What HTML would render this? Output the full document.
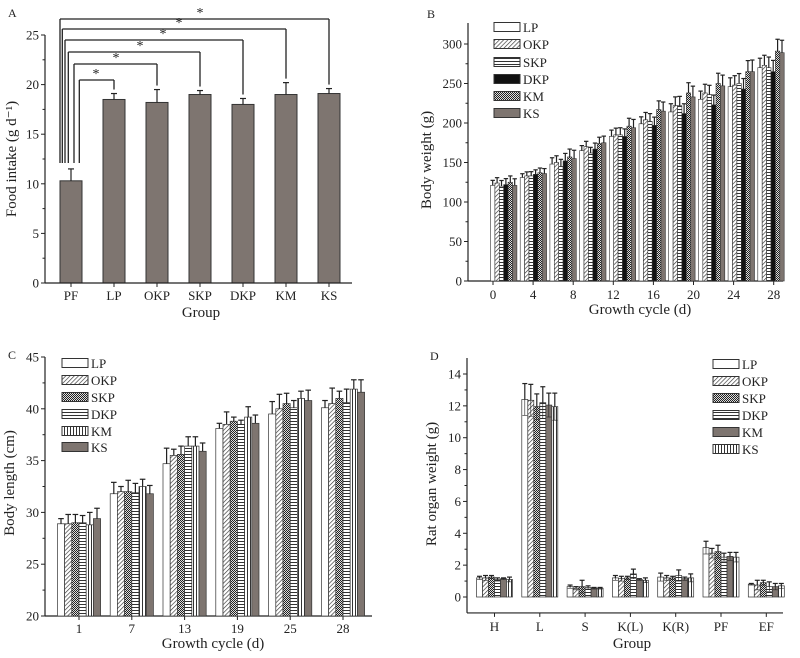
<!DOCTYPE html>
<html><head><meta charset="utf-8"><style>
html,body{margin:0;padding:0;background:#fff;}
svg{display:block;font-family:"Liberation Serif",serif;}
</style></head><body>
<svg id="fig" width="800" height="658" viewBox="0 0 800 658" xmlns="http://www.w3.org/2000/svg">
<defs>
<pattern id="p-diag" patternUnits="userSpaceOnUse" width="3" height="3" patternTransform="rotate(45)"><rect width="3" height="3" fill="#fff"/><line x1="0" y1="0" x2="0" y2="3" stroke="#333" stroke-width="1.3"/></pattern>
<pattern id="p-hor" patternUnits="userSpaceOnUse" width="4" height="3"><rect width="4" height="3" fill="#fff"/><line x1="0" y1="1.5" x2="4" y2="1.5" stroke="#333" stroke-width="1"/></pattern>
<pattern id="p-ver" patternUnits="userSpaceOnUse" width="3" height="4"><rect width="3" height="4" fill="#fff"/><line x1="1.5" y1="0" x2="1.5" y2="4" stroke="#333" stroke-width="1"/></pattern>
<pattern id="p-check" patternUnits="userSpaceOnUse" width="2" height="2"><rect width="2" height="2" fill="#ddd"/><rect width="1" height="1" fill="#222"/><rect x="1" y="1" width="1" height="1" fill="#222"/></pattern>
</defs>
<g id="root"></g>
</svg>
<script>
// ---- Panel A data ----
const aCats = ['PF','LP','OKP','SKP','DKP','KM','KS'];
const aVals = [10.3,18.5,18.2,19.0,18.0,19.0,19.1];
const aErrs = [1.2,0.6,1.3,0.4,0.6,1.2,0.5];
const aTicks = [0,5,10,15,20,25];
// ---- Panel B data ----
const bSeries = ['LP','OKP','SKP','DKP','KM','KS'];
const bTicks = [0,50,100,150,200,250,300];
const bXLabels = ['0','4','8','12','16','20','24','28'];
const bLP  = [121,131,148,165,183,199,214,230,246,270];
const bOKP = [124,133,150,170,185,204,222,238,248,273];
const bSKP = [120,133,145,162,185,202,222,236,250,270];
const bDKP = [122,135,152,167,183,197,212,223,243,265];
const bKM  = [125,137,157,174,196,217,238,250,265,291];
const bKS  = [121,136,155,175,194,215,233,247,265,289];
const bErr = [8,6,10,8,10,11,13,13,14,15];
// ---- Panel C data ----
const cCats = ['1','7','13','19','25','28'];
const cSeries = ['LP','OKP','SKP','DKP','KM','KS'];
const cTicks = [20,25,30,35,40,45];
const cLP  = [28.9,31.8,34.7,38.1,39.5,40.1];
const cOKP = [28.9,32.0,35.5,38.5,40.0,40.5];
const cSKP = [29.0,32.0,35.6,38.8,40.5,41.0];
const cDKP = [29.0,31.9,36.4,38.5,40.1,40.6];
const cKM  = [28.8,32.5,36.4,39.2,41.0,41.9];
const cKS  = [29.4,31.8,35.9,38.6,40.8,41.6];
const cErrLP=[0.5,1.1,1.5,0.5,1.2,0.7], cErrOKP=[0.9,0.5,0.6,1.2,1.4,1.5], cErrSKP=[0.8,1.1,0.8,0.4,1.0,0.7];
const cErrDKP=[0.7,0.9,0.9,0.4,0.7,1.3], cErrKM=[1.2,0.7,0.9,1.0,0.7,0.9], cErrKS=[1.0,0.8,0.8,0.8,1.0,1.2];
// ---- Panel D data ----
const dCats = ['H','L','S','K(L)','K(R)','PF','EF'];
const dSeries = ['LP','OKP','SKP','DKP','KM','KS'];
const dTicks = [0,2,4,6,8,10,12,14];
const dLP  = [1.2,12.4,0.65,1.2,1.25,3.1,0.8];
const dOKP = [1.2,12.35,0.55,1.15,1.2,2.75,0.75];
const dSKP = [1.25,11.95,0.65,1.2,1.2,2.85,0.9];
const dDKP = [1.1,12.2,0.6,1.45,1.35,2.5,0.65];
const dKM  = [1.15,12.05,0.55,1.1,1.15,2.55,0.65];
const dKS  = [1.1,11.95,0.55,1.05,1.2,2.5,0.7];
const dErrLP=[0.1,1.0,0.1,0.15,0.25,0.4,0.05], dErrOKP=[0.15,1.0,0.1,0.15,0.15,0.3,0.3], dErrSKP=[0.1,0.8,0.4,0.1,0.1,0.4,0.15];
const dErrDKP=[0.1,1.0,0.1,0.3,0.35,0.25,0.3], dErrKM=[0.05,0.75,0.05,0.05,0.1,0.25,0.2], dErrKS=[0.15,0.85,0.05,0.15,0.25,0.3,0.15];

const NS='http://www.w3.org/2000/svg';
const root=document.getElementById('root');
function mk(tag,attrs,parent,text){const e=document.createElementNS(NS,tag);for(const k in attrs)e.setAttribute(k,attrs[k]);if(text!==undefined)e.textContent=text;(parent||root).appendChild(e);return e;}
function grp(name){const g=mk('g',{});


return g;}
function line(g,x1,y1,x2,y2,w){return mk('line',{x1,y1,x2,y2,stroke:'#222','stroke-width':w||1},g);}
function txt(g,x,y,s,anchor,size,name){const t=mk('text',{x,y,'text-anchor':anchor||'middle','font-size':size||13,fill:'#222'},g,s);


return t;}
const GRAY='#7e7570';
const TS=13, AS=15;
const fills={white:'#fff',diag:'url(#p-diag)',hor:'url(#p-hor)',ver:'url(#p-ver)',check:'url(#p-check)',black:'#111',gray:GRAY};

function yAxis(g,x,yTop,yBot,ticks,yf,minorStep){
  line(g,x,yTop,x,yBot,1.2);
  ticks.forEach(t=>{const y=yf(t);line(g,x-4,y,x,y,1);txt(g,x-6,y+4.5,String(t),'end',TS,'y-tick-label');});
  if(minorStep){const lo=ticks[0],hi=ticks[ticks.length-1];for(let v=lo+minorStep;v<hi;v+=2*minorStep){line(g,x-2.5,yf(v),x,yf(v),1);}}
}
function legend(g,x,ys,names,fl){
  names.forEach((n,i)=>{const le=grp('legend-entry-'+n.toLowerCase());g.appendChild(le);
    mk('rect',{x,y:ys[i]-4.5,width:26,height:9,fill:fl[i],stroke:'#333','stroke-width':1},le);
    txt(le,x+29,ys[i]+5,n,'start',TS,'legend-label');});
}
function errBar(g,cx,yTop,yErr,capW,both,yDown){
  line(g,cx,yTop,cx,yErr,1.2);line(g,cx-capW,yErr,cx+capW,yErr,1.2);
  if(both){line(g,cx,yTop,cx,yDown,0.6);line(g,cx-capW,yDown,cx+capW,yDown,0.6);}
}

// ===== Panel A =====
(function(){
 const g=grp('panel-a-food-intake');
 const X0=45,Y0=283,Y25=35;const yf=v=>Y0-(Y0-Y25)*v/25;
 const xc=i=>71+i*43;const bw=22;
 txt(g,8,17,'A','start',12,'panel-label-a');
 aCats.forEach((c,i)=>{const b=mk('rect',{x:xc(i)-bw/2,y:yf(aVals[i]),width:bw,height:Y0-yf(aVals[i]),fill:GRAY,stroke:'#333','stroke-width':1},g);
  
  
  errBar(g,xc(i),yf(aVals[i]),yf(aVals[i]+aErrs[i]),3);
  line(g,xc(i),Y0,xc(i),Y0+4,1);
  txt(g,xc(i),Y0+17,c,'middle',TS,'x-tick-label');});
 line(g,X0,Y0,352,Y0,1.2);
 yAxis(g,X0,Y0-0,Y0,aTicks,yf,2.5);
 line(g,X0,yf(25),X0,Y0,1.2);
 const br=grp('significance-brackets');g.appendChild(br);
 const lefts=[79.3,74,68.3,65,62.3,60];const tops=[80,64,52,40,29,19];
 const starX=[96,116,140,163,179,200];
 for(let k=1;k<aCats.length;k++){const lx=lefts[k-1],ty=tops[k-1],rx=xc(k);
  const dropEnd=yf(aVals[k]+aErrs[k])-4;
  line(br,lx,163,lx,ty,1.3);line(br,lx,ty,rx,ty,1.3);line(br,rx,ty,rx,dropEnd,1.3);
  txt(br,starX[k-1],ty-2,'*','middle',14,'significance-star');}
 const yl=txt(g,0,0,'Food intake (g d\u207B\u00B9)','middle',AS,'y-axis-title');yl.setAttribute('transform','translate(16,159) rotate(-90)');
 txt(g,201,317,'Group','middle',AS,'x-axis-title');
})();

// ===== Panel B =====
(function(){
 const g=grp('panel-b-body-weight');
 const X0=468,Y0=281,Y300=44;const yf=v=>Y0-(Y0-Y300)*v/300;
 txt(g,427,18,'B','start',12,'panel-label-b');
 line(g,X0,Y0,783,Y0,1.2);
 yAxis(g,X0,23,Y0,bTicks,yf,25);
 bXLabels.forEach((l,i)=>{const x=493+i*40.1;line(g,x,Y0,x,Y0+4,1);txt(g,x,Y0+18,l,'middle',TS,'x-tick-label');});
 const series=[bLP,bOKP,bSKP,bDKP,bKM,bKS];const fl=[fills.white,fills.diag,fills.hor,fills.black,fills.check,fills.gray];
 const bw=4.4;
 for(let gi=0;gi<bLP.length;gi++){const gx=490.5+gi*29.7;
  series.forEach((s,si)=>{const x=gx+si*bw;const r=mk('rect',{x,y:yf(s[gi]),width:bw,height:Y0-yf(s[gi]),fill:fl[si],stroke:'#333','stroke-width':0.6},g);
   
   
   errBar(g,x+bw/2,yf(s[gi]),yf(s[gi]+bErr[gi]*(0.8+0.05*si)),2.2);});}
 const lg=grp('legend-b');g.appendChild(lg);legend(lg,494,[27,44,62,79,96,113],bSeries,fl);
 const yl=txt(g,0,0,'Body weight (g)','middle',AS,'y-axis-title');yl.setAttribute('transform','translate(431,160) rotate(-90)');
 txt(g,640,314,'Growth cycle (d)','middle',AS,'x-axis-title');
})();

// ===== Panel C =====
(function(){
 const g=grp('panel-c-body-length');
 const X0=45,Y20=616,Y45=357;const yf=v=>Y20-(Y20-Y45)*(v-20)/25;
 txt(g,8,359,'C','start',12,'panel-label-c');
 line(g,X0,Y20,372,Y20,1.2);
 yAxis(g,X0,Y45,Y20,cTicks,yf,2.5);
 const series=[cLP,cOKP,cSKP,cDKP,cKM,cKS];const errs=[cErrLP,cErrOKP,cErrSKP,cErrDKP,cErrKM,cErrKS];
 const fl=[fills.white,fills.diag,fills.check,fills.hor,fills.ver,fills.gray];const bw=7.2;
 cCats.forEach((c,gi)=>{const cx=79+gi*52.8;line(g,cx,Y20,cx,Y20+4,1);txt(g,cx,Y20+17,c,'middle',TS,'x-tick-label');
  series.forEach((s,si)=>{const x=cx-3*bw+si*bw;const r=mk('rect',{x,y:yf(s[gi]),width:bw,height:Y20-yf(s[gi]),fill:fl[si],stroke:'#333','stroke-width':0.7},g);
   
   
   errBar(g,x+bw/2,yf(s[gi]),yf(s[gi]+errs[si][gi]),2.8);});});
 const lg=grp('legend-c');g.appendChild(lg);legend(lg,62,[363,380,397,414,431,447],cSeries,fl);
 const yl=txt(g,0,0,'Body length (cm)','middle',AS,'y-axis-title');yl.setAttribute('transform','translate(14,483) rotate(-90)');
 txt(g,213,648,'Growth cycle (d)','middle',AS,'x-axis-title');
})();

// ===== Panel D =====
(function(){
 const g=grp('panel-d-organ-weight');
 const X0=467,Y0=597,Y14=374;const yf=v=>Y0-(Y0-Y14)*v/14;const YB=yf(-1);
 txt(g,430,360,'D','start',12,'panel-label-d');
 line(g,X0,YB,783,YB,1.2);
 yAxis(g,X0,358,YB,dTicks,yf,1);
 const series=[dLP,dOKP,dSKP,dDKP,dKM,dKS];const errs=[dErrLP,dErrOKP,dErrSKP,dErrDKP,dErrKM,dErrKS];
 const fl=[fills.white,fills.diag,fills.check,fills.hor,fills.gray,fills.ver];const bw=6;
 dCats.forEach((c,gi)=>{const cx=494.5+gi*45.3;line(g,cx,YB,cx,YB+4,1);txt(g,cx,YB+18,c,'middle',TS,'x-tick-label');
  series.forEach((s,si)=>{const x=cx-3*bw+si*bw;const r=mk('rect',{x,y:yf(s[gi]),width:bw,height:Y0-yf(s[gi]),fill:fl[si],stroke:'#333','stroke-width':0.7},g);
   
   
   errBar(g,x+bw/2,yf(s[gi]),yf(s[gi]+errs[si][gi]),2.5,true,yf(s[gi]-errs[si][gi]));});});
 const lg=grp('legend-d');g.appendChild(lg);legend(lg,713,[364,381,398,415,432,449],dSeries,fl);
 const yl=txt(g,0,0,'Rat organ weight (g)','middle',AS,'y-axis-title');yl.setAttribute('transform','translate(436,484) rotate(-90)');
 txt(g,632,648,'Group','middle',AS,'x-axis-title');
})();
</script>
</body></html>
